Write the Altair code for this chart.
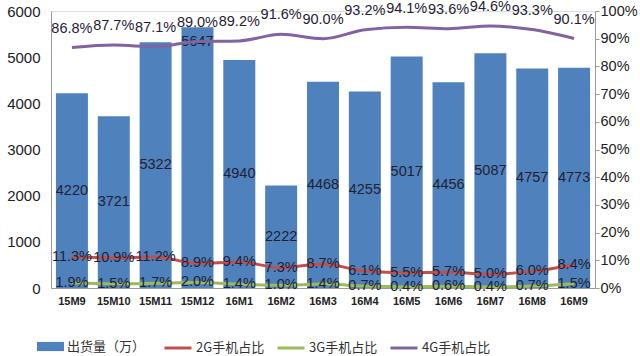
import altair as alt
import pandas as pd

months = ["15M9", "15M10", "15M11", "15M12", "16M1", "16M2", "16M3",
          "16M4", "16M5", "16M6", "16M7", "16M8", "16M9"]
shipments = [4220, 3721, 5322, 5647, 4940, 2222, 4468, 4255, 5017, 4456, 5087, 4757, 4773]
share_2g = [11.3, 10.9, 11.2, 8.9, 9.4, 7.3, 8.7, 6.1, 5.5, 5.7, 5.0, 6.0, 8.4]
share_3g = [1.9, 1.5, 1.7, 2.0, 1.4, 1.0, 1.4, 0.7, 0.4, 0.6, 0.4, 0.7, 1.5]
share_4g = [86.8, 87.7, 87.1, 89.0, 89.2, 91.6, 90.0, 93.2, 94.1, 93.6, 94.6, 93.3, 90.1]

bar_name = "出货量（万）"
line_names = ["2G手机占比", "3G手机占比", "4G手机占比"]
line_colors = ["#c0504d", "#9bbb59", "#8064a2"]
bar_color = "#4f81bd"

bars_df = pd.DataFrame({"月份": months, "出货量": shipments, "系列": bar_name})
rows = []
for name, vals in zip(line_names, [share_2g, share_3g, share_4g]):
    for m, v in zip(months, vals):
        rows.append({"月份": m, "占比": v / 100.0, "系列": name})
lines_df = pd.DataFrame(rows)

FONT = "Liberation Sans"
TXT = "#1f2235"

x_enc = alt.X("月份:N", sort=months,
              scale=alt.Scale(paddingInner=0.24, paddingOuter=0.12),
              axis=alt.Axis(title=None, labelAngle=0, labelFont=FONT, labelFontSize=11,
                            labelFontWeight="bold", labelColor="#222", ticks=False,
                            domainColor="#9a9a9a", labelPadding=7))

left_axis = alt.Axis(title=None, values=[0, 1000, 2000, 3000, 4000, 5000, 6000],
                     format="d", grid=False, ticks=False, labelFont=FONT, labelFontSize=15,
                     labelColor="#222", domainColor="#9a9a9a", labelPadding=11)
left_scale = alt.Scale(domain=[0, 6000])

bars = alt.Chart(bars_df).mark_bar(size=32).encode(
    x=x_enc,
    y=alt.Y("出货量:Q", scale=left_scale, axis=left_axis, title=None),
    fill=alt.Fill("系列:N", scale=alt.Scale(domain=[bar_name], range=[bar_color]),
                  legend=alt.Legend(title=None, orient="none", legendX=-14, legendY=322,
                                    symbolType="M-1,-0.34H1V0.34H-1Z", symbolSize=729,
                                    symbolStrokeWidth=0, labelFont="Noto Sans CJK SC",
                                    labelFontSize=13, labelColor="#333", labelOffset=3)),
)

bar_labels = alt.Chart(bars_df).transform_calculate(
    lab_y="datum['月份'] == '15M12' ? datum['出货量'] - 320 : datum['出货量'] / 2"
).mark_text(font=FONT, fontSize=14.5, color=TXT).encode(
    x=alt.X("月份:N", sort=months),
    y=alt.Y("lab_y:Q", scale=left_scale, axis=left_axis, title=None),
    text=alt.Text("出货量:Q", format="d"),
)

right_axis = alt.Axis(title=None, orient="right", format=".0%",
                      values=[i / 10 for i in range(11)], grid=False,
                      tickSize=4, tickColor="#9a9a9a", domainColor="#9a9a9a",
                      labelFont=FONT, labelFontSize=14.5, labelColor="#222", labelPadding=1)
right_scale = alt.Scale(domain=[0, 1])

lines = alt.Chart(lines_df).mark_line(strokeWidth=3, interpolate="monotone").encode(
    x=alt.X("月份:N", sort=months),
    y=alt.Y("占比:Q", scale=right_scale, axis=right_axis, title=None),
    stroke=alt.Stroke("系列:N", scale=alt.Scale(domain=line_names, range=line_colors),
                      legend=alt.Legend(title=None, orient="none", direction="horizontal",
                                        legendX=112, legendY=322, symbolType="stroke",
                                        symbolSize=729, symbolStrokeWidth=3,
                                        columnPadding=6, labelFont="Noto Sans CJK SC",
                                        labelFontSize=13, labelColor="#333", labelOffset=3)),
)

line_labels = alt.Chart(lines_df).transform_calculate(
    dy_off="datum['系列'] == '4G手机占比' ? 0.068 : 0",
    lab_y="datum['占比'] + datum.dy_off"
).mark_text(font=FONT, fontSize=14.5, color=TXT).encode(
    x=alt.X("月份:N", sort=months),
    y=alt.Y("lab_y:Q", scale=right_scale, axis=right_axis, title=None),
    text=alt.Text("占比:Q", format=".1%"),
)

left = alt.layer(bars, bar_labels)
right = alt.layer(lines, line_labels)

chart = alt.layer(left, right).resolve_scale(y="independent").properties(
    width=544, height=277,
    autosize=alt.AutoSizeParams(type="none"),
    padding={"left": 51, "top": 11, "right": 45, "bottom": 68},
).configure_view(stroke=None).configure(background="white")

chart.save("out.html", embed_options={"renderer": "svg", "actions": False})
